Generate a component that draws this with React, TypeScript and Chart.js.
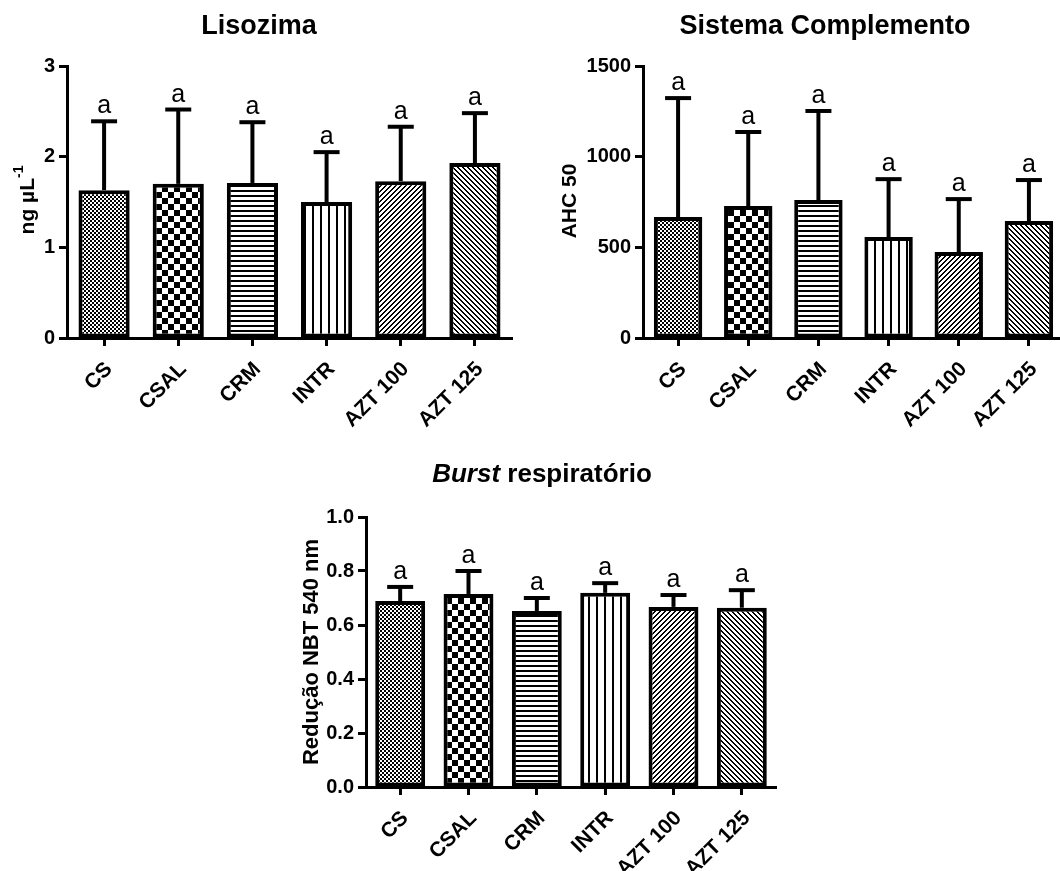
import React, { useEffect, useRef } from "react";
import { Chart, registerables } from "chart.js";

Chart.register(...registerables);

// ---------------- DATA ----------------
const categories = ["CS", "CSAL", "CRM", "INTR", "AZT 100", "AZT 125"];

const lisozimaMean = [1.63, 1.7, 1.71, 1.5, 1.73, 1.93];
const lisozimaSD = [0.76, 0.82, 0.67, 0.55, 0.6, 0.55];
const lisozimaLetters = ["a", "a", "a", "a", "a", "a"];
const lisozimaTicks = [0, 1, 2, 3];
const lisozimaTickLabels = ["0", "1", "2", "3"];

const complementoMean = [667, 728, 761, 557, 474, 645];
const complementoSD = [656, 408, 491, 319, 292, 226];
const complementoLetters = ["a", "a", "a", "a", "a", "a"];
const complementoTicks = [0, 500, 1000, 1500];
const complementoTickLabels = ["0", "500", "1000", "1500"];

const burstMean = [0.689, 0.715, 0.652, 0.719, 0.667, 0.664];
const burstSD = [0.052, 0.085, 0.048, 0.036, 0.044, 0.065];
const burstLetters = ["a", "a", "a", "a", "a", "a"];
const burstTicks = [0, 0.2, 0.4, 0.6, 0.8, 1.0];
const burstTickLabels = ["0.0", "0.2", "0.4", "0.6", "0.8", "1.0"];

const patternKinds = ["fineChecker", "checker", "hlines", "vlines", "diagUp", "diagDown"];

// ---------------- STYLE ----------------
const FONT = "Arial, 'Liberation Sans', sans-serif";

function makePattern(kind: string): CanvasPattern {
  const c = document.createElement("canvas");
  const g = c.getContext("2d")!;
  const px = (x: number, y: number) => g.fillRect(x, y, 1, 1);
  if (kind === "fineChecker") {
    c.width = 4; c.height = 4;
    g.fillStyle = "#000"; g.fillRect(0, 0, 4, 4);
    g.fillStyle = "#fff"; g.fillRect(0, 0, 2, 2); g.fillRect(2, 2, 2, 2);
  } else if (kind === "checker") {
    c.width = 12; c.height = 12;
    g.fillStyle = "#fff"; g.fillRect(0, 0, 12, 12);
    g.fillStyle = "#000"; g.fillRect(0, 0, 6, 6); g.fillRect(6, 6, 6, 6);
  } else if (kind === "hlines") {
    c.width = 5; c.height = 5;
    g.fillStyle = "#fff"; g.fillRect(0, 0, 5, 5);
    g.fillStyle = "#000"; g.fillRect(0, 0, 5, 2);
  } else if (kind === "vlines") {
    c.width = 8; c.height = 8;
    g.fillStyle = "#fff"; g.fillRect(0, 0, 8, 8);
    g.fillStyle = "#000"; g.fillRect(0, 0, 2, 8);
  } else {
    const p = 5;
    c.width = p; c.height = p;
    g.fillStyle = "#fff"; g.fillRect(0, 0, p, p);
    g.fillStyle = "#000";
    for (let x = 0; x < p; x++) {
      for (let y = 0; y < p; y++) {
        const v = kind === "diagUp" ? (x + y) % p : (x - y + p) % p;
        if (v < 2) px(x, y);
      }
    }
  }
  return g.createPattern(c, "repeat")!;
}

interface Spec {
  left: number; top: number; w: number; h: number;
  padTop: number; padRight: number; yWidth: number; xHeight: number;
  mean: number[]; sd: number[]; letters: string[];
  ticks: number[]; tickLabels: string[]; yMax: number;
  barPct: number;
  titleParts: { text: string; italic: boolean }[];
  titleX: number; titleY: number; titleSize: number;
  yTitle: string; ySup: string; yTitleX: number; yTitleY: number; yTitleSize: number;
}

function makeAnnotPlugin(spec: Spec) {
  return {
    id: "annot",
    afterDatasetsDraw(chart: any) {
      const ctx: CanvasRenderingContext2D = chart.ctx;
      const yScale = chart.scales.y;
      const meta = chart.getDatasetMeta(0);
      ctx.save();
      ctx.strokeStyle = "#000";
      ctx.fillStyle = "#000";
      ctx.lineWidth = 4;
      ctx.lineCap = "butt";
      meta.data.forEach((bar: any, i: number) => {
        const x = bar.x;
        const yTop = yScale.getPixelForValue(spec.mean[i]);
        const yErr = yScale.getPixelForValue(spec.mean[i] + spec.sd[i]);
        ctx.beginPath();
        ctx.moveTo(x, yTop);
        ctx.lineTo(x, yErr);
        ctx.stroke();
        ctx.beginPath();
        ctx.moveTo(x - 13, yErr);
        ctx.lineTo(x + 13, yErr);
        ctx.stroke();
        ctx.font = `25px ${FONT}`;
        ctx.textAlign = "center";
        ctx.textBaseline = "alphabetic";
        ctx.fillText(spec.letters[i], x, yErr - 8);
      });

      // title
      ctx.textAlign = "left";
      ctx.textBaseline = "alphabetic";
      const fonts = spec.titleParts.map(
        (p) => `${p.italic ? "italic " : ""}bold ${spec.titleSize}px ${FONT}`
      );
      let total = 0;
      const widths = spec.titleParts.map((p, i) => {
        ctx.font = fonts[i];
        const w = ctx.measureText(p.text).width;
        total += w;
        return w;
      });
      let cx = spec.titleX - total / 2;
      spec.titleParts.forEach((p, i) => {
        ctx.font = fonts[i];
        ctx.fillText(p.text, cx, spec.titleY);
        cx += widths[i];
      });

      // y axis title (rotated)
      ctx.save();
      ctx.translate(spec.yTitleX, spec.yTitleY);
      ctx.rotate(-Math.PI / 2);
      const mainFont = `bold ${spec.yTitleSize}px ${FONT}`;
      const supFont = `bold 14px ${FONT}`;
      ctx.font = mainFont;
      const w1 = ctx.measureText(spec.yTitle).width;
      ctx.font = supFont;
      const w2 = spec.ySup ? ctx.measureText(spec.ySup).width : 0;
      const start = -(w1 + w2) / 2;
      ctx.font = mainFont;
      ctx.fillText(spec.yTitle, start, 0);
      if (spec.ySup) {
        ctx.font = supFont;
        ctx.fillText(spec.ySup, start + w1, -11);
      }
      ctx.restore();
      ctx.restore();
    },
  };
}

function BarPanel({ spec }: { spec: Spec }) {
  const ref = useRef<HTMLCanvasElement>(null);
  useEffect(() => {
    const patterns = patternKinds.map(makePattern);
    const chart = new Chart(ref.current!, {
      type: "bar",
      data: {
        labels: categories,
        datasets: [
          {
            data: spec.mean,
            backgroundColor: patterns as any,
            borderColor: "#000",
            borderWidth: 4,
            borderSkipped: false,
            barPercentage: spec.barPct,
            categoryPercentage: 1,
          },
        ],
      },
      options: {
        animation: false,
        responsive: false,
        devicePixelRatio: 1,
        layout: { padding: { top: spec.padTop, right: spec.padRight, left: 0, bottom: 0 } },
        plugins: { legend: { display: false }, tooltip: { enabled: false }, title: { display: false } },
        scales: {
          x: {
            offset: true,
            grid: {
              display: true,
              drawOnChartArea: false,
              drawTicks: true,
              tickLength: 8,
              tickWidth: 3,
              tickColor: "#000",
              offset: false,
              color: "#000",
            },
            border: { display: true, width: 3, color: "#000" },
            ticks: {
              color: "#000",
              font: { family: FONT, size: 21, weight: "bold" },
              minRotation: 45,
              maxRotation: 45,
              padding: 11,
              labelOffset: 5,
              autoSkip: false,
            },
            afterFit: (s: any) => {
              s.height = spec.xHeight;
            },
          } as any,
          y: {
            min: 0,
            max: spec.yMax,
            afterBuildTicks: (s: any) => {
              s.ticks = spec.ticks.map((v) => ({ value: v }));
            },
            ticks: {
              color: "#000",
              font: { family: FONT, size: 20, weight: "bold" },
              padding: 4,
              callback: (_v: any, i: number) => spec.tickLabels[i],
            },
            grid: {
              display: true,
              drawOnChartArea: false,
              drawTicks: true,
              tickLength: 8,
              tickWidth: 3,
              tickColor: "#000",
              color: "#000",
            },
            border: { display: true, width: 3, color: "#000" },
            afterFit: (s: any) => {
              s.width = spec.yWidth;
            },
          } as any,
        },
      },
      plugins: [makeAnnotPlugin(spec)],
    });
    return () => chart.destroy();
  }, []);
  return (
    <canvas
      ref={ref}
      width={spec.w}
      height={spec.h}
      style={{ position: "absolute", left: spec.left, top: spec.top, width: spec.w, height: spec.h }}
    />
  );
}

const specs: Spec[] = [
  {
    left: 0, top: 0, w: 530, h: 440,
    padTop: 66, padRight: 18, yWidth: 67, xHeight: 102,
    mean: lisozimaMean, sd: lisozimaSD, letters: lisozimaLetters,
    ticks: lisozimaTicks, tickLabels: lisozimaTickLabels, yMax: 3,
    barPct: 0.69,
    titleParts: [{ text: "Lisozima", italic: false }],
    titleX: 259, titleY: 34, titleSize: 27,
    yTitle: "ng \u00b5L", ySup: "-1", yTitleX: 34, yTitleY: 200, yTitleSize: 21,
  },
  {
    left: 530, top: 0, w: 536, h: 440,
    padTop: 66, padRight: 2, yWidth: 113, xHeight: 102,
    mean: complementoMean, sd: complementoSD, letters: complementoLetters,
    ticks: complementoTicks, tickLabels: complementoTickLabels, yMax: 1500,
    barPct: 0.69,
    titleParts: [{ text: "Sistema Complemento", italic: false }],
    titleX: 295, titleY: 34, titleSize: 27,
    yTitle: "AHC 50", ySup: "", yTitleX: 46, yTitleY: 201, yTitleSize: 21,
  },
  {
    left: 260, top: 460, w: 540, h: 411,
    padTop: 57, padRight: 24, yWidth: 106, xHeight: 84,
    mean: burstMean, sd: burstSD, letters: burstLetters,
    ticks: burstTicks, tickLabels: burstTickLabels, yMax: 1,
    barPct: 0.73,
    titleParts: [
      { text: "Burst", italic: true },
      { text: " respirat\u00f3rio", italic: false },
    ],
    titleX: 282, titleY: 22, titleSize: 26,
    yTitle: "Redu\u00e7\u00e3o NBT 540 nm", ySup: "", yTitleX: 58, yTitleY: 192, yTitleSize: 22,
  },
];

export default function App() {
  return (
    <div
      style={{
        position: "absolute",
        left: 0,
        top: 0,
        width: 1060,
        height: 871,
        overflow: "hidden",
        background: "#fff",
      }}
    >
      {specs.map((s, i) => (
        <BarPanel key={i} spec={s} />
      ))}
    </div>
  );
}
